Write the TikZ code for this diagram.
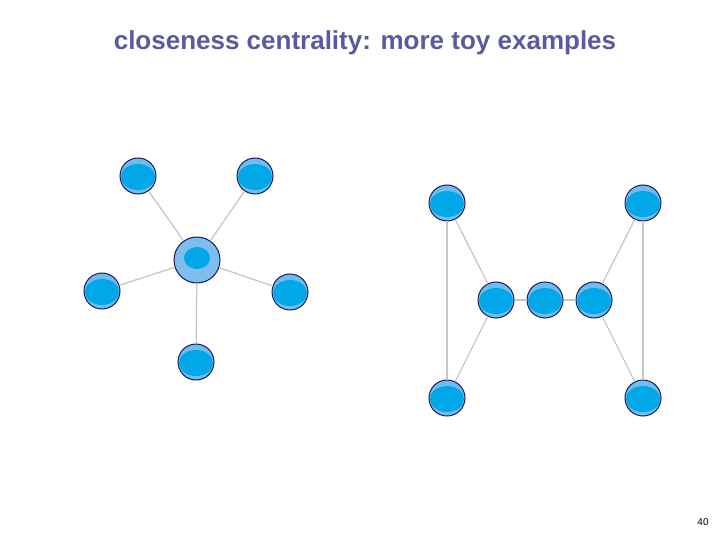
\documentclass[tikz,border=0pt]{standalone}
\usepackage{fontspec}
\setmainfont{Liberation Sans}
\definecolor{titlec}{HTML}{5A5A9E}
\definecolor{inner}{HTML}{00A8E8}
\definecolor{rim}{HTML}{6FBDF0}
\definecolor{bigfill}{HTML}{7EBEEE}
\definecolor{border}{HTML}{1A1A5A}
\begin{document}
\begin{tikzpicture}[x=1pt,y=-1pt,
  edge/.style={draw=black!22,line width=1.3pt},
  nd/.style={circle,minimum size=36pt,inner sep=0pt,draw=border,line width=1pt,fill=rim,
    path picture={\fill[inner] ([yshift=-1pt]path picture bounding box.center) ellipse (17pt and 13pt);}},
  big/.style={circle,minimum size=46pt,inner sep=0pt,draw=border,line width=1pt,fill=bigfill,
    path picture={\fill[inner] ([yshift=2pt]path picture bounding box.center) ellipse (13pt and 11pt);}}]
\useasboundingbox (0,0) rectangle (720,540);
\node[text=titlec,font=\bfseries\fontsize{26}{30}\selectfont] (title) at (365,43) {closeness centrality: more toy examples};
\node[font=\fontsize{10}{12}\selectfont] (pg) at (703,522) {40};
\node[big] (c) at (197,260) {};
\node[nd] (s1) at (138,176) {};
\node[nd] (s2) at (255,176) {};
\node[nd] (s3) at (102,291) {};
\node[nd] (s4) at (290,292) {};
\node[nd] (s5) at (196,362) {};
\node[nd] (a) at (447,203) {};
\node[nd] (b) at (643,203) {};
\node[nd] (m1) at (496,300) {};
\node[nd] (m2) at (545,300) {};
\node[nd] (m3) at (594,300) {};
\node[nd] (d) at (447,398) {};
\node[nd] (e) at (643,398) {};
\foreach \u in {s1,s2,s3,s4,s5} \draw[edge] (c) -- (\u);
\draw[edge] (a) -- (d); \draw[edge] (a) -- (m1); \draw[edge] (d) -- (m1);
\draw[edge] (m1) -- (m2); \draw[edge] (m2) -- (m3);
\draw[edge] (m3) -- (b); \draw[edge] (m3) -- (e); \draw[edge] (b) -- (e);
\end{tikzpicture}
\end{document}
